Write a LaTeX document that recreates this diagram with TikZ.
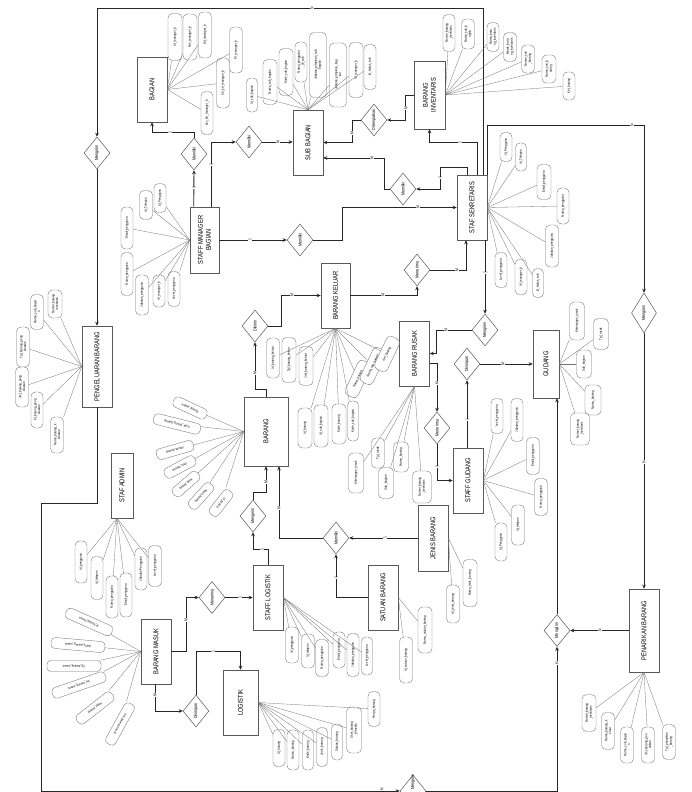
\documentclass[tikz,border=0pt]{standalone}
\usepackage{fontspec}
\setmainfont{Liberation Sans}[FakeStretch=0.82]
\usetikzlibrary{shapes.geometric,arrows.meta}
\newcommand{\rt}[1]{\rotatebox{90}{\shortstack[c]{#1}}}
\newcommand{\attr}[7]{\node[attr,rotate=#6,minimum width=#4pt,minimum height=#5pt] (#1) at (#2,#3) {#7};}
\newcommand{\ent}[6]{\node[ent,minimum width=#4pt,minimum height=#5pt] (#1) at (#2,#3) {\rt{#6}};}
\newcommand{\rel}[4]{\node[relb] (#1) at (#2,#3) {\rotatebox{90}{#4}};}
\newcommand{\crd}[4]{\node[card] (#1) at (#2,#3) {#4};}
\begin{document}
\begin{tikzpicture}[x=1pt,y=-1pt,
 ent/.style={draw=black!65, line width=0.6pt, fill=white, inner sep=0pt, font=\fontsize{7}{7.6}\selectfont},
 relb/.style={diamond, draw=black!65, line width=0.5pt, fill=white, inner sep=0pt, minimum width=26pt, minimum height=32pt, font=\fontsize{4.5}{5}\selectfont},
 attr/.style={draw=black!55, line width=0.35pt, fill=white, rounded corners=4.5pt, inner sep=0.3pt, align=center, font=\fontsize{3.5}{3.9}\selectfont},
 tattr/.style={attr, rounded corners=4pt, font=\fontsize{3.2}{3.6}\selectfont},
 lk/.style={draw=black!85, line width=0.9pt},
 arr/.style={-{Stealth[length=4pt,width=3.6pt]}},
 att/.style={draw=black!55, line width=0.3pt},
 card/.style={fill=white, inner sep=0.4pt, rotate=90, font=\fontsize{4.2}{4.2}\selectfont}]
\useasboundingbox (0,0) rectangle (691,792);
\fill[white] (0,0) rectangle (691,792);

% ---------------- entities
\ent{BAG}{152}{89.5}{30}{65}{BAGIAN}
\ent{SUB}{308}{142.5}{30}{65}{SUB BAGIAN}
\ent{INV}{429.5}{95}{31}{68}{BARANG\\INVENTARIS}
\ent{SEK}{472}{207.5}{30}{65}{STAF SEKRETARIS}
\ent{SM}{204.5}{240}{29}{66}{STAFF MANAGER\\BAGIAN}
\ent{PB}{97}{366.5}{30}{81}{PENGELUARAN BARANG}
\ent{BK}{335.5}{295.5}{29}{65}{BARANG KELUAR}
\ent{BRG}{266}{431.5}{44}{69}{BARANG}
\ent{BR}{414.5}{353.5}{30}{65}{BARANG RUSAK}
\ent{GUD}{546}{364}{26}{68}{GUDANG}
\ent{SG}{468}{480.5}{30}{65}{STAFF GUDANG}
\ent{ADM}{122}{485.5}{22}{65}{STAF ADMIN}
\ent{JEN}{433}{538}{30}{66}{JENIS BARANG}
\ent{SAT}{383}{597.5}{30}{65}{SATUAN BARANG}
\ent{SL}{268}{597.5}{30}{65}{STAFF LOGISTIK}
\ent{BM}{156}{651.5}{30}{65}{BARANG MASUK}
\ent{LOG}{240.5}{702.5}{35}{65}{LOGISTIK}
\ent{PEN}{644}{630.5}{30}{83}{PENARIKAN BARANG}

% ---------------- relationships
\rel{dKirimPB}{97}{153}{Mengirim}
\rel{dMilikiBag}{194}{154}{Memiliki}
\rel{dMilikiSub}{249}{142}{Memiliki}
\rel{dMilikiSek}{300}{240}{Memiliki}
\rel{dTempat}{374}{120}{Ditempatkan}
\rel{dMilikiSS}{403}{189}{Memiliki}
\rel{dTerimaSek}{417}{270}{Menerima}
\rel{dKirimRusak}{485}{330}{Mengirim}
\rel{dTerimaGud}{437}{428}{Menerima}
\rel{dSimpanGud}{467}{364}{Disimpan}
\rel{dDikirim}{255}{326}{Dikirim}
\rel{dKirimBar}{253}{516}{Mengirim}
\rel{dMilikiJen}{336}{538}{Memiliki}
\rel{dTerimaLog}{212}{597.5}{Menerima}
\rel{dSimpanLog}{196}{711}{Disimpan}
\node[relb,minimum width=25pt,minimum height=40pt] (dKirimPen) at (644,313) {\rotatebox{90}{Mengirim}};
\rel{dKirimBawah}{557}{630.5}{Mengirim}
\node[relb] (dBot) at (413,791) {};
\node[font=\fontsize{4.5}{5}\selectfont, inner sep=0pt] (dBotT) at (413,782) {\rotatebox{90}{Mengirim}};

% ---------------- relationship connectors
\draw[lk,arr] ([xshift=-4]SEK.north east) |- (97,8) -- (dKirimPB.north);
\draw[lk,arr] (dKirimPB.south) -- (PB.north);
\draw[lk,arr] (PB.south) |- (41,503) |- (dBot.west);
\draw[lk,arr] (dBot.east) -| (dKirimBawah.south);
\draw[lk,arr] (dKirimBawah.north) -- (dKirimBawah.north |- GUD.south);
\draw[lk,arr] (PEN.west) -- (dKirimBawah.east);
\draw[lk,arr] (SEK.north east) |- (644,125) -- (dKirimPen.north);
\draw[lk,arr] (dKirimPen.south) -- (PEN.north);

\draw[lk,arr] ([xshift=4]SM.north west) -- (dMilikiBag.south);
\draw[lk,arr] (dMilikiBag.north) -- ++(0,-5) -| (BAG.south);
\draw[lk,arr] ([xshift=-8]SM.north east) |- (dMilikiSub.west);
\draw[lk,arr] (dMilikiSub.east) -- (dMilikiSub.east -| SUB.west);
\draw[lk,arr] (SM.east) -- (dMilikiSek.west);
\draw[lk,arr] (dMilikiSek.east) -- ++(29,0) |- (SEK.west);

\draw[lk,arr] (INV.west) -- ++(-8,0) |- (dTempat.east);
\draw[lk,arr] (dTempat.west) -- ++(-8,0) |- (SUB.east);
\draw[lk,arr] ([xshift=5]SEK.north) -- ++(0,-32) -| (INV.south);
\draw[lk,arr] ([xshift=-5]SEK.north) -- ++(0,-7) -- ++(-27,0) |- (dMilikiSS.east);
\draw[lk,arr] (dMilikiSS.west) -- ++(-5,0) |- ([yshift=-15.5]SUB.east);

\draw[lk,arr] (dTerimaSek.east) -| ([xshift=-6]SEK.south);
\draw[lk,arr] (BK.east) -| (dTerimaSek.south);
\draw[lk,arr] ([xshift=13]SEK.south) -- (dKirimRusak.north);
\draw[lk,arr] (dKirimRusak.west) -- ++(-35,0) |- (BR.east);
\draw[lk,arr] ([yshift=-10]BR.east) -| (dTerimaGud.north);
\draw[lk,arr] (dTerimaGud.south) |- (SG.west);
\draw[lk,arr] ([xshift=-1]SG.north) -- (dSimpanGud.south);
\draw[lk,arr] (dSimpanGud.east) -- (GUD.west);

\draw[lk,arr] (BRG.north) -- ++(0,-7) -| (dDikirim.south);
\draw[lk,arr] (dDikirim.east) -- ++(13,0) |- (BK.west);
\draw[lk,arr] (dKirimBar.north) -- ++(0,-7) -| (BRG.south);
\draw[lk,arr] (SL.north) -- ++(0,-15) -| (dKirimBar.south);
\draw[lk,arr] (dMilikiJen.west) -| ([xshift=13]BRG.south);
\draw[lk,arr] (JEN.west) -- (dMilikiJen.east);
\draw[lk,arr] (SAT.west) -| (dMilikiJen.south);

\draw[lk,arr] (dTerimaLog.east) -- (SL.west);
\draw[lk,arr] (BM.east) -- ++(15,0) |- (dTerimaLog.west);
\draw[lk,arr] ([xshift=-1]BM.south) |- (dSimpanLog.west);
\draw[lk,arr] (dSimpanLog.north) |- (LOG.north |- BM.east) -- (LOG.north);

% ---------------- cardinalities
\crd{c1}{312}{8}{N}
\crd{c2}{632}{125}{N}
\crd{c3}{644}{462}{N}
\crd{c4}{382}{789}{N}
\crd{c5}{557}{663}{N}
\crd{c6}{600}{630.5}{N}
\crd{c7}{194}{188}{1}
\crd{c8}{170}{133}{1}
\crd{c9}{211}{165}{1}
\crd{c10}{278}{142}{M}
\crd{c11}{250}{240}{1}
\crd{c12}{418}{207.5}{M}
\crd{c13}{406}{108}{M}
\crd{c14}{352}{133}{M}
\crd{c15}{460}{143}{1}
\crd{c16}{440}{178}{1}
\crd{c17}{372}{158}{M}
\crd{c18}{457}{270}{M}
\crd{c19}{383}{295.5}{M}
\crd{c20}{485}{273}{1}
\crd{c21}{446}{330}{M}
\crd{c22}{437}{383}{M}
\crd{c23}{437}{467}{1}
\crd{c24}{467}{420}{1}
\crd{c25}{503}{364}{M}
\crd{c26}{255}{373}{M}
\crd{c27}{292}{295.5}{M}
\crd{c28}{266}{482}{M}
\crd{c29}{262}{550}{1}
\crd{c30}{279}{508}{M}
\crd{c31}{385}{538}{1}
\crd{c32}{336}{578}{1}
\crd{c33}{240}{597.5}{1}
\crd{c34}{186}{620}{M}
\crd{c35}{155}{695}{M}
\crd{c36}{213}{651.5}{1}

% ---------------- attributes: BAGIAN
\attr{b1}{175}{37}{47}{14}{90}{Id\_manager\_b}
\attr{b2}{190}{37}{46}{14}{90}{Nm\_manager\_b}
\attr{b3}{205}{35}{46}{13}{90}{Kd\_manager\_b}
\attr{b4}{236}{50}{46}{13}{90}{Pt\_manager\_b}
\attr{b5}{223}{83}{50}{13}{90}{Srt\_ktr\_manager\_b}
\attr{b6}{207}{113}{43}{12}{90}{Lks\_ktr\_manager\_b}
\foreach \a in {b1,b2,b3,b4,b5,b6} \draw[att] (BAG.east) -- (\a);

% SUB BAGIAN
\attr{s1}{252}{95}{34}{11}{90}{Id\_sub\_bagian}
\attr{s2}{270}{82}{45}{14}{90}{Nama\_sub\_bagian}
\attr{s3}{286}{72}{47}{14}{90}{Kode\_sub\_bagian}
\attr{s4}{301}{62}{40}{12}{90}{Nama\_pengguna\\\_jb\_sub}
\attr{s5}{318}{65}{65}{17}{90}{Jabatan\_pimpinan\_sub\\bagian}
\attr{s6}{338}{75}{64}{17}{90}{Jabatan\_pimpinan\_bag\\ian}
\attr{s7}{356}{70}{55}{14}{90}{Id\_manager\_b}
\attr{s8}{370}{67}{45}{12}{90}{Id\_status\_sub}
\foreach \a in {s1,s2,s3,s4,s5,s6,s7,s8} \draw[att] (SUB.north) -- (\a);

% BARANG INVENTARIS
\attr{i1}{449}{33}{37}{12}{90}{Nomor\_barang\\\_inventaris}
\attr{i2}{468}{34}{30}{13}{90}{Nama\_sub\_b\\agian}
\attr{i3}{493}{37}{29}{12}{90}{Nama\_bara\\ng\_inventaris}
\attr{i4}{510}{47}{29}{13}{90}{Merek\_bara\\ng\_inventaris}
\attr{i5}{528}{59}{28}{13}{90}{Nomor\_seri\\\_barang}
\attr{i6}{549}{69}{28}{14}{90}{Nama\_seri\_b\\arang}
\attr{i7}{569}{86}{28}{12}{90}{Ket\_barang}
\foreach \a in {i1,i2,i3,i4,i5,i6,i7} \draw[att] (INV.east) -- (\a);

% STAF SEKRETARIS
\attr{k1}{506}{147}{29}{12}{90}{Id\_Pengguna}
\attr{k2}{521}{157}{28}{11}{90}{Id\_Telepon}
\attr{k3}{544}{182}{35}{14}{90}{Email\_pengguna}
\attr{k4}{563}{206}{36}{12}{90}{Nama\_pengguna}
\attr{k5}{552}{246}{42}{13}{90}{Jabatan\_pengguna}
\attr{k6}{501}{270}{35}{12}{90}{Level\_pengguna}
\attr{k7}{521}{277}{35}{12}{90}{Id\_manager\_b}
\attr{k8}{538}{283}{29}{11}{90}{Id\_status\_sub}
\foreach \a in {k1,k2,k3,k4,k5,k6,k7,k8} \draw[att] (SEK.east) -- (\a);

% STAFF MANAGER BAGIAN
\attr{m1}{160}{198}{29}{12}{90}{Id\_Pengguna}
\attr{m2}{146}{205}{29}{13}{90}{Id\_Telepon}
\attr{m3}{127}{228}{42}{12}{90}{Email\_pengguna}
\attr{m4}{127}{274}{43}{12}{90}{Nama\_pengguna}
\attr{m5}{142}{295}{40}{13}{90}{Jabatan\_pengguna}
\attr{m6}{159}{291}{32}{12}{90}{Id\_manager\_b}
\attr{m7}{174}{289}{35}{12}{90}{Level\_pengguna}
\foreach \a in {m1,m2,m3,m4,m5,m6,m7} \draw[att] (SM.west) -- (\a);

% PENGELUARAN BARANG
\attr{p1}{55}{304}{28}{14}{90}{Nomor\_barang\\inventaris}
\attr{p2}{37}{312}{35}{13}{90}{Nama\_sub\_bagia\\n}
\attr{p3}{23}{347}{40}{13}{90}{Tgl\_barang\_peng\\eluaran}
\attr{p4}{22}{387}{40}{13}{90}{Jml\_barang\_peng\\eluaran}
\attr{p5}{37}{410}{36}{12}{90}{Kt\_barang\_peng\\eluaran}
\attr{p6}{57}{435}{36}{13}{90}{Nama\_barang\_k\\eluaran}
\foreach \a in {p1,p2,p3,p4,p5,p6} \draw[att] (PB.west) -- (\a);

% STAF ADMIN
\attr{a1}{81}{562}{42}{12}{90}{Id\_pengguna}
\attr{a2}{97}{578}{43}{12}{90}{Id\_telepon}
\attr{a3}{112}{597}{42}{12}{90}{Nama\_pengguna}
\attr{a4}{126}{595}{44}{12}{90}{Email\_pengguna}
\attr{a5}{141}{569}{42}{12}{90}{Jabatan Pengguna}
\attr{a6}{155}{566}{41}{13}{90}{Level\_pengguna}
\foreach \a in {a1,a2,a3,a4,a5,a6} \draw[att] ([xshift=-5]ADM.south) -- (\a);

% BARANG MASUK
\node[tattr,rotate=156,minimum width=50pt,minimum height=11pt] (n1) at (89,622) {Id\_barang\_masuk};
\node[tattr,rotate=175,minimum width=54pt,minimum height=11pt] (n2) at (78,645) {Nama\_barang\_masuk};
\node[tattr,rotate=180,minimum width=54pt,minimum height=11pt] (n3) at (74,666) {Tgl\_barang\_masuk};
\node[tattr,rotate=199,minimum width=56pt,minimum height=11pt] (n4) at (79,685) {Jml\_barang\_masuk};
\node[tattr,rotate=218,minimum width=44pt,minimum height=11pt] (n5) at (95,708) {Harga\_barang};
\node[tattr,rotate=241,minimum width=46pt,minimum height=11pt] (n6) at (120,724) {Ket\_barang\_masuk};
\foreach \a in {n1,n2,n3,n4,n5,n6} \draw[att] (BM.west) -- (\a);

% BARANG
\node[tattr,rotate=155,minimum width=36pt,minimum height=11pt] (g1) at (190,408) {Barang\_terbaru};
\node[tattr,rotate=166,minimum width=48pt,minimum height=11pt] (g2) at (177,424) {Kode\_barang\_gudang};
\node[tattr,rotate=196,minimum width=38pt,minimum height=11pt] (g3) at (175,450) {Satuan\_barang};
\node[tattr,rotate=208,minimum width=34pt,minimum height=11pt] (g4) at (180,467) {Jenis\_barang};
\node[tattr,rotate=221,minimum width=32pt,minimum height=11pt] (g5) at (186,484) {Kode\_barang};
\node[tattr,rotate=228,minimum width=31pt,minimum height=11pt] (g6) at (201,496) {Nama\_barang};
\node[tattr,rotate=232,minimum width=30pt,minimum height=11pt] (g7) at (221,503) {Id\_barang};
\foreach \a in {g1,g2,g3,g4,g5,g6,g7} \draw[att] (BRG.west) -- (\a);

% BARANG KELUAR
\attr{q1}{273}{358}{40}{13}{90}{Id\_barang\_keluar}
\attr{q2}{289}{360}{45}{14}{90}{Tgl\_barang\_keluar}
\attr{q3}{306}{366}{39}{14}{90}{Jml\_barang\_keluar}
\attr{q4}{305}{428}{40}{14}{90}{Id\_barang}
\attr{q5}{321}{426}{42}{14}{90}{Id\_sub\_bagian}
\attr{q6}{339}{424}{40}{14}{90}{Kode\_barang}
\attr{q7}{353}{421}{40}{11}{90}{Kode\_sub\_bagian}
\attr{q8}{358}{379}{38}{14}{65}{Nama\_barang}
\attr{q9}{373}{366}{38}{14}{65}{Nama\_sub\_bagian}
\attr{q10}{387}{354}{36}{14}{65}{Ket\_barang}
\foreach \a in {q1,q2,q3,q4,q5,q6,q7,q8,q9,q10} \draw[att] (BK.south) -- (\a);

% BARANG RUSAK
\attr{r1}{356}{473}{40}{15}{90}{Keterangan\_rusak}
\attr{r2}{378}{453}{30}{13}{90}{Tgl\_rusak}
\attr{r3}{386}{483}{31}{15}{90}{Sub\_bagian}
\attr{r4}{401}{457}{30}{15}{90}{Nama\_barang}
\attr{r5}{422}{487}{32}{19}{90}{Nomor\_barang\\\_inventaris}
\foreach \a in {r1,r2,r3,r4,r5} \draw[att] (BR.south) -- (\a);

% GUDANG
\attr{u1}{577}{321}{38}{15}{90}{Keterangan\_rusak}
\attr{u2}{601}{334}{31}{15}{90}{Tgl\_rusak}
\attr{u3}{584}{364}{28}{15}{90}{Sub\_bagian}
\attr{u4}{593}{400}{30}{16}{90}{Nama\_barang}
\attr{u5}{580}{429}{32}{19}{90}{Nomor\_barang\\\_inventaris}
\foreach \a in {u1,u2,u3,u4,u5} \draw[att] (GUD.east) -- (\a);

% STAFF GUDANG
\attr{w1}{497}{416}{35}{12}{90}{Level\_pengguna}
\attr{w2}{517}{420}{43}{12}{90}{Jabatan\_pengguna}
\attr{w3}{533}{456}{37}{13}{90}{Email\_pengguna}
\attr{w4}{541}{497}{37}{13}{90}{Nama\_pengguna}
\attr{w5}{518}{525}{40}{13}{90}{Id\_telepon}
\attr{w6}{501}{542}{38}{12}{90}{Id\_Pengguna}
\foreach \a in {w1,w2,w3,w4,w5,w6} \draw[att] (SG.east) -- (\a);

% PENARIKAN BARANG
\attr{t1}{589}{713}{37}{14}{90}{Nomor\_barang\\\_inventaris}
\attr{t2}{608}{731}{37}{13}{90}{Nama\_barang\_k\\eluar}
\attr{t3}{627}{745}{36}{13}{90}{Nama\_sub\_bagia\\n}
\attr{t4}{648}{745}{36}{13}{90}{Jml\_barang\_pen\\arikan}
\attr{t5}{669}{742}{35}{13}{90}{Tgl\_penarikan\\\_barang}
\foreach \a in {t1,t2,t3,t4,t5} \draw[att] (PEN.south) -- (\a);

% STAFF LOGISTIK
\attr{L1}{292}{645}{36}{13}{90}{Id\_pengguna}
\attr{L2}{308}{651}{34}{13}{90}{Id\_telepon}
\attr{L3}{322}{658}{37}{13}{90}{Nama\_pengguna}
\attr{L4}{339}{650}{36}{12}{90}{Email\_pengguna}
\attr{L5}{353}{655}{43}{12}{90}{Jabatan\_pengguna}
\attr{L6}{367}{656}{38}{11}{90}{Level\_pengguna}
\foreach \a in {L1,L2,L3,L4,L5,L6} \draw[att] (SL.east) -- (\a);

% SATUAN BARANG
\attr{v1}{406}{660}{46}{13}{90}{Id\_satuan\_barang}
\attr{v2}{425}{630}{46}{14}{90}{Nama\_satuan\_barang}
\foreach \a in {v1,v2} \draw[att] (SAT.east) -- (\a);

% JENIS BARANG
\attr{j1}{453}{604}{38}{13}{90}{Id\_jenis\_barang}
\attr{j2}{470}{583}{47}{14}{90}{Nama\_jenis\_barang}
\foreach \a in {j1,j2} \draw[att] (JEN.east) -- (\a);

% LOGISTIK
\attr{o1}{279}{748}{37}{12}{90}{Id\_barang}
\attr{o2}{293}{750}{40}{12}{90}{Nama\_barang}
\attr{o3}{308}{750}{40}{11}{90}{Kode\_barang}
\attr{o4}{322}{747}{39}{11}{90}{Jenis\_barang}
\attr{o5}{337}{742}{36}{11}{90}{Satuan\_barang}
\attr{o6}{354}{730}{46}{15}{90}{Stok\_barang\\\_tersedia}
\attr{o7}{374}{709}{35}{12}{90}{Harga\_barang}
\foreach \a in {o1,o2,o3,o4,o5,o6,o7} \draw[att] (LOG.east) -- (\a);
\end{tikzpicture}
\end{document}
